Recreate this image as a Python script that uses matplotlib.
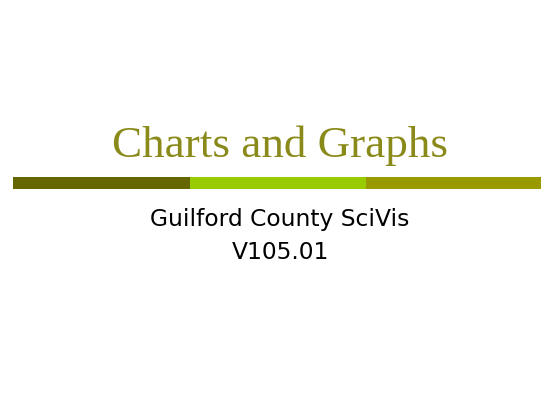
import matplotlib.pyplot as plt

# --------------------------------------------------
# slide content
# --------------------------------------------------
title = 'Charts and Graphs'
subtitle_lines = ['Guilford County SciVis', 'V105.01']

# divider bar segments (start, width) in slide pixels
seg_starts = [13, 190, 366]
seg_widths = [177, 176, 175]
seg_colors = ['#666600', '#99cc00', '#999900']

fig = plt.figure(figsize=(5.6, 4.2), dpi=100)
ax = fig.add_axes([0, 0, 1, 1])
ax.set_xlim(0, 560)
ax.set_ylim(420, 0)
ax.axis('off')

# title
ax.text(280, 157, title, ha='center', va='baseline', color='#8a8a1a',
        fontsize=32.5, family=['Liberation Serif', 'DejaVu Serif'])

# divider bar
ax.broken_barh(list(zip(seg_starts, seg_widths)), (177, 12),
               facecolors=seg_colors)

# subtitle
baselines = [226, 259]
for line, yb in zip(subtitle_lines, baselines):
    ax.text(280, yb, line, ha='center', va='baseline',
            color='black', fontsize=16.8, family='DejaVu Sans')

fig.savefig('out.png', dpi=100)
